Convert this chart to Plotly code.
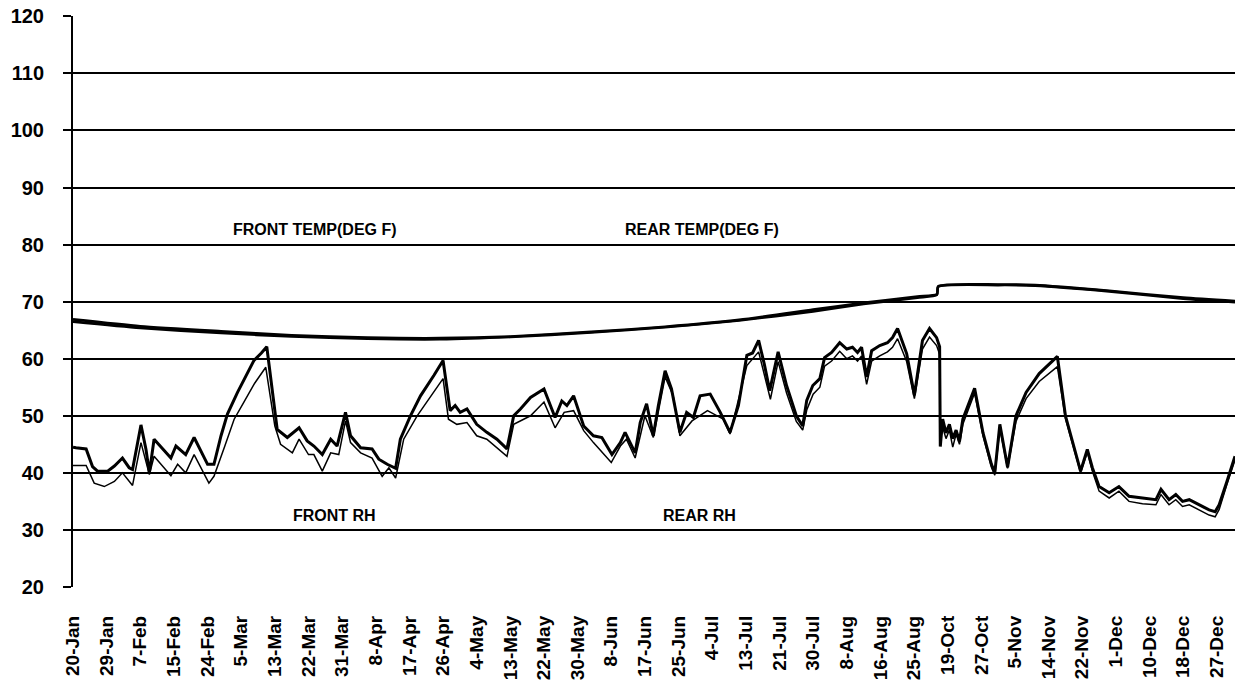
import plotly.graph_objects as go

# ---- categories / tick labels ----
tick_labels = ["20-Jan", "29-Jan", "7-Feb", "15-Feb", "24-Feb", "5-Mar", "13-Mar", "22-Mar",
               "31-Mar", "8-Apr", "17-Apr", "26-Apr", "4-May", "13-May", "22-May", "30-May",
               "8-Jun", "17-Jun", "25-Jun", "4-Jul", "13-Jul", "21-Jul", "30-Jul", "8-Aug",
               "16-Aug", "25-Aug", "19-Oct", "27-Oct", "5-Nov", "14-Nov", "22-Nov", "1-Dec",
               "10-Dec", "18-Dec", "27-Dec"]
tick_pos = list(range(len(tick_labels)))

# ---- temperature series (position in label units, deg F) ----
front_temp_x = [0, 2, 4.4, 6.5, 8.75, 10.9, 13, 15.4, 17.6, 19.8, 22, 23.5, 25.1, 25.68,
                25.72, 27.5, 28.6, 30.8, 33.0, 34.54]
front_temp = [66.9, 65.7, 64.8, 64.1, 63.7, 63.6, 63.9, 64.7, 65.6, 66.8, 68.6, 69.8, 70.9,
              71.3, 72.7, 73.0, 72.9, 71.9, 70.7, 70.1]
rear_temp_x = [0, 2, 4.4, 6.5, 8.75, 10.9, 13, 15.4, 17.6, 19.8, 22, 23.5, 25.1, 25.68,
               25.72, 27.5, 28.6, 30.8, 33.0, 34.54]
rear_temp = [66.5, 65.4, 64.5, 63.9, 63.5, 63.4, 63.8, 64.6, 65.5, 66.7, 68.3, 69.6, 70.7,
             71.2, 72.6, 72.9, 72.8, 71.8, 70.5, 69.9]

# ---- relative humidity series (%) ----
front_rh_x = [0.0, 0.09, 0.39, 0.58, 0.73, 1.03, 1.23, 1.47, 1.67, 1.77, 2.02, 2.17, 2.27, 2.41,
              2.91, 3.06, 3.35, 3.6, 4.0, 4.19, 4.4, 4.59, 4.89, 5.1, 5.38, 5.6, 5.76, 6.07,
              6.37, 6.72, 6.96, 7.16, 7.41, 7.66, 7.85, 8.1, 8.25, 8.55, 8.89, 9.09, 9.34,
              9.59, 9.73, 10.03, 10.33, 10.73, 11.0, 11.21, 11.36, 11.51, 11.71, 12.0, 12.3,
              12.6, 12.9, 13.1, 13.3, 13.6, 14.0, 14.33, 14.53, 14.68, 14.88, 15.18, 15.47,
              15.72, 15.92, 16.02, 16.27, 16.41, 16.71, 16.86, 17.05, 17.25, 17.4, 17.6, 17.79,
              18.04, 18.24, 18.44, 18.64, 18.94, 19.24, 19.53, 19.78, 20.03, 20.2, 20.38, 20.55,
              20.71, 20.96, 21.21, 21.5, 21.69, 21.81, 21.99, 22.2, 22.34, 22.55, 22.79, 23.0,
              23.17, 23.32, 23.44, 23.59, 23.74, 23.98, 24.21, 24.36, 24.51, 24.78, 25.01,
              25.25, 25.46, 25.67, 25.76, 25.78, 25.85, 25.95, 26.05, 26.15, 26.25, 26.35,
              26.45, 26.8, 27.05, 27.3, 27.4, 27.55, 27.78, 28.03, 28.33, 28.72, 29.26, 29.5,
              29.95, 30.15, 30.3, 30.5, 30.8, 31.09, 31.39, 31.79, 32.19, 32.34, 32.58, 32.78,
              32.98, 33.18, 33.57, 33.77, 33.95, 34.07, 34.3, 34.54]
front_rh = [44.5, 44.4, 44.2, 41.1, 40.3, 40.3, 41.2, 42.6, 40.9, 40.6, 48.4, 44.1, 40.0, 45.9,
            42.6, 44.7, 43.2, 46.2, 41.5, 41.5, 46.5, 50.3, 54.1, 56.5, 59.7, 61.0, 62.1, 47.6,
            46.2, 47.9, 45.6, 44.7, 43.2, 45.9, 44.7, 50.6, 46.5, 44.4, 44.2, 42.4, 41.5,
            40.8, 45.9, 50.0, 53.5, 57.1, 59.7, 50.9, 51.8, 50.6, 51.2, 48.5, 47.1,
            45.9, 44.2, 50.0, 51.2, 53.2, 54.7, 49.7, 52.6, 51.8, 53.5, 48.2, 46.5,
            46.2, 44.1, 43.2, 45.3, 47.1, 43.5, 48.8, 52.1, 46.5, 51.8, 57.9, 54.7,
            47.1, 50.6, 49.7, 53.5, 53.8, 50.6, 47.1, 51.8, 60.6, 61.0, 63.2, 59.0,
            54.4, 61.2, 55.3, 50.0, 48.2, 52.7, 55.3, 56.5, 60.2, 61.1, 62.8, 61.7,
            62.0, 61.1, 62.0, 56.8, 61.4, 62.3, 62.8, 63.7, 65.3, 60.9, 53.6,
            63.2, 65.3, 63.7, 62.1, 44.6, 49.4, 47.0, 48.5, 46.0, 47.5, 45.5,
            49.4, 54.8, 47.0, 41.5, 40.0, 48.5, 41.0, 50.0, 54.1, 57.4, 60.4, 50.0,
            40.3, 44.1, 40.9, 37.6, 36.5, 37.6, 35.9, 35.6, 35.3, 37.1, 35.3, 36.2,
            35.0, 35.3, 34.1, 33.5, 33.2, 34.4, 38.5, 42.9]

rear_rh_x = [0.0, 0.39, 0.63, 0.93, 1.23, 1.47, 1.77, 2.02, 2.27, 2.41, 2.91, 3.11, 3.35, 3.6,
             4.04, 4.19, 4.5, 4.79, 5.08, 5.4, 5.73, 6.0, 6.17, 6.52, 6.72, 7.0, 7.16, 7.41,
             7.66, 7.9, 8.1, 8.25, 8.55, 8.89, 9.19, 9.39, 9.59, 9.83, 10.23, 10.62, 11.0,
             11.16, 11.41, 11.71, 12.0, 12.3, 12.6, 12.9, 13.1, 13.6, 14.0, 14.33, 14.6, 14.88,
             15.18, 15.47, 16.0, 16.27, 16.45, 16.71, 17.0, 17.25, 17.6, 17.84, 18.04, 18.4,
             18.86, 19.33, 19.53, 20.03, 20.38, 20.73, 20.96, 21.21, 21.5, 21.69, 21.81, 22.0,
             22.2, 22.34, 22.55, 22.79, 23.0, 23.17, 23.32, 23.44, 23.59, 23.74, 23.98, 24.21,
             24.36, 24.51, 24.78, 25.01, 25.25, 25.46, 25.67, 25.76, 25.78, 25.85, 25.95, 26.05,
             26.15, 26.25, 26.35, 26.45, 26.8, 27.05, 27.3, 27.4, 27.55, 27.78, 28.03, 28.33,
             28.72, 29.26, 29.5, 29.95, 30.15, 30.3, 30.5, 30.8, 31.09, 31.39, 31.79, 32.19,
             32.34, 32.58, 32.78, 32.98, 33.18, 33.57, 33.77, 33.95, 34.07, 34.3, 34.54]
rear_rh = [41.3, 41.3, 38.2, 37.6, 38.5, 40.0, 37.8, 45.3, 39.7, 42.9, 39.5, 41.5, 40.0, 43.2,
           38.2, 39.4, 44.5, 49.4, 52.4, 55.7, 58.5, 48.2, 45.0, 43.5, 45.9, 43.2, 43.2, 40.3,
           43.5, 43.2, 49.1, 45.3, 43.5, 42.6, 39.4, 40.9, 39.1, 45.9, 50.0, 53.2, 56.5,
           49.4, 48.5, 48.8, 46.5, 45.9, 44.4, 42.9, 48.5, 50.0, 52.4, 47.9, 50.6, 50.9,
           47.4, 45.3, 41.8, 44.7, 45.9, 42.6, 50.0, 46.2, 56.8, 53.5, 46.5, 49.1,
           50.9, 49.4, 46.8, 58.8, 61.2, 52.9, 59.5, 54.0, 49.0, 47.5, 51.0, 53.8,
           55.0, 58.7, 59.6, 61.3, 60.0, 60.5, 59.6, 60.5, 55.5, 59.6, 60.5, 61.2,
           62.0, 63.5, 59.5, 53.0, 61.7, 63.8, 62.3, 60.8, 45.5, 48.0, 46.0, 47.5,
           44.5, 46.8, 45.0, 48.5, 54.0, 46.5, 41.0, 39.6, 47.8, 40.8, 49.0, 53.0,
           56.0, 58.6, 49.5, 40.0, 43.6, 40.3, 36.8, 35.6, 36.8, 35.0, 34.6, 34.4,
           36.2, 34.4, 35.3, 34.1, 34.4, 33.2, 32.6, 32.3, 33.6, 38.0, 42.3]

y_ticks = [20, 30, 40, 50, 60, 70, 80, 90, 100, 110, 120]

FONT = "Liberation Sans, Arial, sans-serif"

fig = go.Figure()
fig.add_trace(go.Scatter(x=rear_temp_x, y=rear_temp, mode="lines", name="REAR TEMP(DEG F)",
                         line=dict(color="black", width=2.6, shape="spline", smoothing=0.6)))
fig.add_trace(go.Scatter(x=front_temp_x, y=front_temp, mode="lines", name="FRONT TEMP(DEG F)",
                         line=dict(color="black", width=2.6, shape="spline", smoothing=0.6)))
fig.add_trace(go.Scatter(x=rear_rh_x, y=rear_rh, mode="lines", name="REAR RH",
                         line=dict(color="black", width=1.5)))
fig.add_trace(go.Scatter(x=front_rh_x, y=front_rh, mode="lines", name="FRONT RH",
                         line=dict(color="black", width=3)))

labels = [("FRONT TEMP(DEG F)", 7.2, 82.7), ("REAR TEMP(DEG F)", 18.7, 82.7),
          ("FRONT RH", 7.76, 32.6), ("REAR RH", 18.63, 32.6)]
for txt, lx, ly in labels:
    fig.add_annotation(x=lx, y=ly, text="<b>%s</b>" % txt, showarrow=False,
                       font=dict(family=FONT, size=16, color="black"))

fig.update_layout(
    width=1235, height=685,
    margin=dict(l=73, r=0, t=16, b=98, autoexpand=False),
    paper_bgcolor="white", plot_bgcolor="white",
    showlegend=False,
    font=dict(family=FONT, color="black"),
)
fig.update_xaxes(
    range=[0, 34.54], tickmode="array", tickvals=tick_pos, ticktext=tick_labels,
    tickangle=-90, showgrid=False, zeroline=False, showline=False, ticks="",
    automargin=False, ticklabeloverflow="allow",
    tickfont=dict(family=FONT, size=19, color="black", weight="bold"), ticklabelstandoff=24,
)
fig.update_yaxes(
    range=[20, 120.05], tickmode="array", tickvals=y_ticks,
    showgrid=True, gridcolor="black", gridwidth=1.6, zeroline=False,
    showline=True, linecolor="black", linewidth=2,
    ticks="outside", ticklen=8, tickcolor="black", tickwidth=1.6,
    automargin=False, ticklabeloverflow="allow",
    tickfont=dict(family=FONT, size=20, color="black", weight="bold"), ticklabelstandoff=15,
)

# remove the browser's default 8px body margin so the figure fills the window exactly
fig.write_html("out.html", config={"displayModeBar": False},
               post_script="document.body.style.margin='0';")
